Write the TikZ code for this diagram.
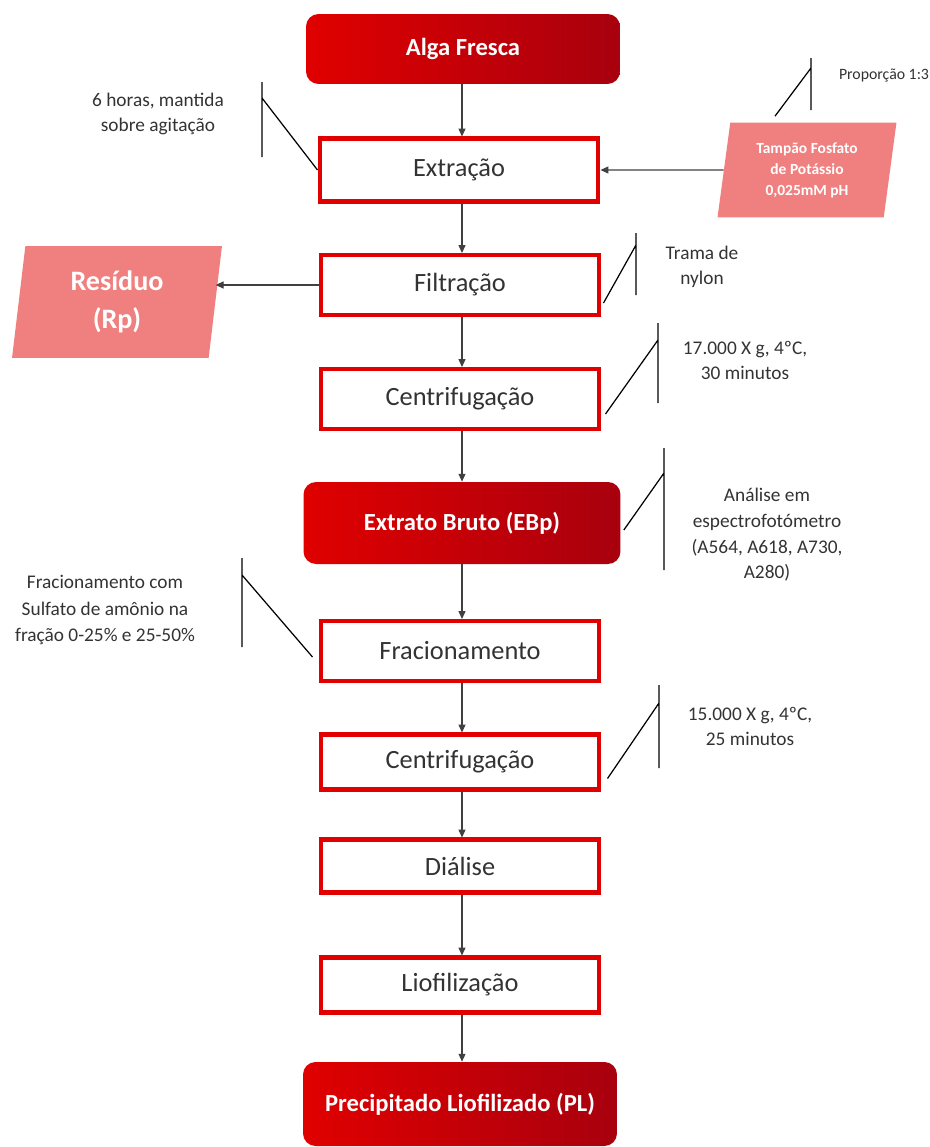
\documentclass[tikz,border=0pt]{standalone}
\usepackage{fontspec}
\setmainfont{Carlito}
\usetikzlibrary{arrows.meta,positioning,shapes.geometric,calc}
\definecolor{stepRed}{HTML}{E00000}
\definecolor{keyDark}{HTML}{A8000E}
\definecolor{inPink}{HTML}{F08080}
\definecolor{noteGray}{HTML}{333333}
\tikzset{
	stepbox/.style={draw=stepRed, line width=2.3pt, fill=white, inner sep=0, text=noteGray,
		minimum width=5.58cm, minimum height=1.2cm, font=\fontsize{15}{18}\selectfont},
	keybox/.style={rounded corners=2.5mm, left color=stepRed, right color=keyDark, text=white,
		minimum width=6.28cm, minimum height=1.4cm, font=\bfseries\fontsize{14}{17}\selectfont},
	inbox/.style={trapezium, trapezium stretches body, fill=inPink, text=white, align=center, inner sep=0},
	note/.style={text=noteGray, align=center, inner sep=0, font=\fontsize{11}{14.2}\selectfont},
	flow/.style={draw=black!75, line width=0.6pt, -{Triangle[length=4.5pt,width=4pt]}},
	bar/.style={draw=black, line width=0.7pt}
}

\begin{document}
\begin{tikzpicture}[x=0.02cm, y=-0.02cm]
	\useasboundingbox (0,0) rectangle (930,1147);

	\node[keybox] (alga) at (463,49) {Alga Fresca};
	\node[stepbox, minimum height=1.26cm] (extr) at (459,170) {Extração};
	\node[stepbox] (filt) at (460,285) {Filtração};
	\node[stepbox] (cent1) at (460,399) {Centrifugação};
	\node[keybox, minimum width=6.34cm, minimum height=1.64cm] (ebp) at (462,523) {Extrato Bruto (EBp)};
	\node[stepbox] (frac) at (460,651) {Fracionamento};
	\node[stepbox, minimum height=1.1cm] (cent2) at (460,762) {Centrifugação};
	\node[stepbox, minimum height=1.06cm] (dial) at (460,866) {Diálise};
	\node[stepbox, minimum height=1.1cm] (liof) at (460,985) {Liofilização};
	\node[keybox, minimum height=1.68cm] (pl) at (460,1104) {Precipitado Liofilizado (PL)};

	\node[inbox, trapezium left angle=77, trapezium right angle=103, minimum width=3.58cm, minimum height=1.9cm,
		font=\bfseries\fontsize{8.8}{12}\selectfont] (tampao) at (807,170) {Tampão Fosfato\\de Potássio\\0,025mM pH};
	\node[inbox, trapezium left angle=78, trapezium right angle=102, minimum width=4.2cm, minimum height=2.24cm,
		font=\bfseries\fontsize{16}{22}\selectfont] (resid) at (117,302) {Resíduo\\(Rp)};

	\coordinate (axis) at (462,0);
	\foreach \a/\b in {alga/extr, extr/filt, filt/cent1, cent1/ebp, ebp/frac, frac/cent2, cent2/dial, dial/liof, liof/pl}
		\draw[flow] (\a.south -| axis) -- (\b.north -| axis);
	\draw[flow] (tampao.west) -- (extr.east);
	\draw[flow] (filt.west) -- (filt.west -| resid.east);

	% notas laterais
	\node[note] (n1) at (158,114) {6 horas, mantida\\sobre agitação};
	\node[note, font=\fontsize{9}{11}\selectfont] (n2) at (884,76) {Proporção 1:3};
	\node[note] (n3) at (702,267) {Trama de\\nylon};
	\node[note] (n4) at (745,360) {17.000 X g, 4ºC,\\30 minutos};
	\node[note, font=\fontsize{11}{14.6}\selectfont] (n5) at (767,535) {Análise em\\espectrofotómetro\\(A564, A618, A730,\\A280)};
	\node[note, font=\fontsize{11}{15.3}\selectfont] (n6) at (105,610) {Fracionamento com\\Sulfato de amônio na\\fração 0-25\% e 25-50\%};
	\node[note] (n7) at (750,726) {15.000 X g, 4ºC,\\25 minutos};

	\coordinate (b1) at (262,98);
	\draw[bar] (262,82) -- (262,157) (b1) -- (extr.west);
	\coordinate (b2) at (811,68);
	\draw[bar] (811,58) -- (811,110) (b2) -- ($(tampao.north)+(-32,-6)$);
	\coordinate (b3) at (636,245);
	\draw[bar] (636,233) -- (636,295) (b3) -- ($(filt.south east)+(2,-14)$);
	\coordinate (b4) at (658,340);
	\draw[bar] (658,323) -- (658,403) (b4) -- ($(cent1.south east)+(4,-17)$);
	\coordinate (b5) at (664,473);
	\draw[bar] (664,448) -- (664,570) (b5) -- ($(ebp.east)+(3,7)$);
	\coordinate (b6) at (242,575);
	\draw[bar] (242,558) -- (242,647) (b6) -- ($(frac.west)+(-6,6)$);
	\coordinate (b7) at (659,703);
	\draw[bar] (659,685) -- (659,768) (b7) -- ($(cent2.south east)+(6,-13)$);
\end{tikzpicture}
\end{document}
